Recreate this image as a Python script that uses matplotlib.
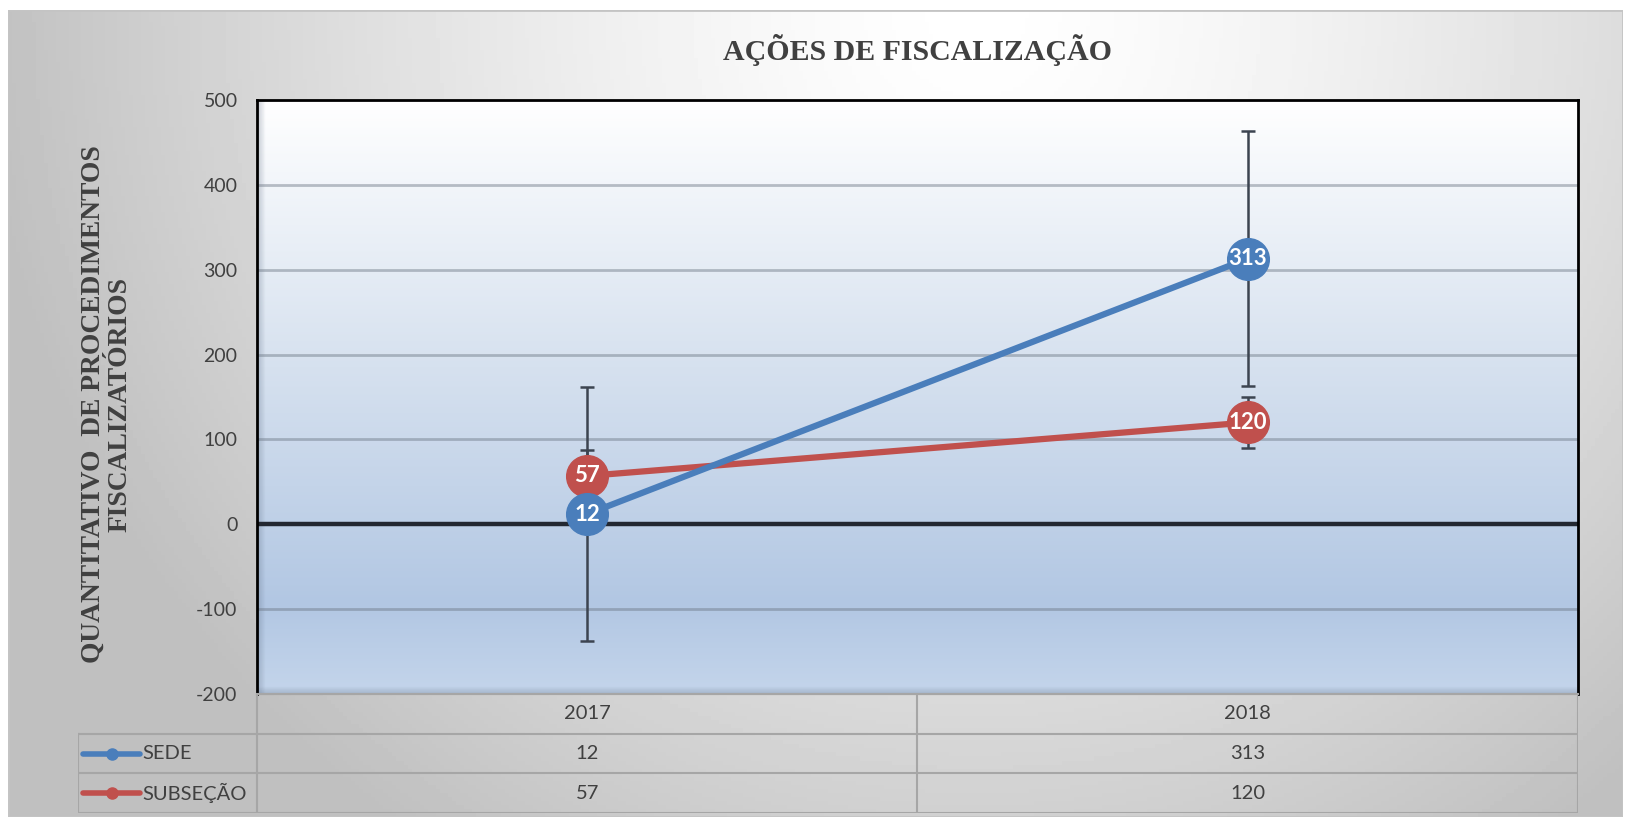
import numpy as np
import matplotlib.pyplot as plt
from matplotlib.lines import Line2D
from matplotlib.patches import Rectangle
from matplotlib.colors import LinearSegmentedColormap

# --------------------------
# Data
# --------------------------
years = ['2017', '2018']
series_names = ['SEDE', 'SUBSEÇÃO']
sede = [12, 313]
subsecao = [57, 120]
sede_err = [150, 150]
subsecao_err = [30, 30]
yticks = [-200, -100, 0, 100, 200, 300, 400, 500]

title = 'AÇÕES DE FISCALIZAÇÃO'
ylabel = 'QUANTITATIVO  DE PROCEDIMENTOS\nFISCALIZATÓRIOS'

blue = '#4a7ebb'
red = '#c0504d'
txt_gray = '#404040'
serif = 'Liberation Serif'
sans = 'Lato'

# --------------------------
# Figure in pixel layout
# --------------------------
W, H = 1631, 823
fig = plt.figure(figsize=(W / 100, H / 100), dpi=100)
fig.patch.set_facecolor('white')


def box(l, t, r, b):
    return [l / W, 1 - b / H, (r - l) / W, (b - t) / H]


# chart area background (grey radial-ish gradient)
bg = fig.add_axes(box(8, 10, 1623, 817), zorder=0)
yy, xx = np.mgrid[0:1:200j, 0:1:400j]
d = np.sqrt(((xx - 0.6) / 0.62) ** 2 + ((yy - 0.0) / 1.25) ** 2)
shade = 1 - 0.25 * np.clip(d, 0, 1) ** 1.4
bg.imshow(shade, cmap='gray', vmin=0, vmax=1, extent=(0, 1, 0, 1), aspect='auto')
bg.set_xlim(0, 1)
bg.set_ylim(0, 1)
bg.axis('off')
bg.add_patch(Rectangle((0, 0), 1, 1, transform=bg.transAxes, fill=False,
                       ec='#c4c4c4', lw=2))

# plot area
L, T, R, B = 257, 100, 1578, 694
ax = fig.add_axes(box(L, T, R, B), zorder=2)
x = np.arange(len(years))
ax.set_xlim(-0.5, len(years) - 0.5)
ax.set_ylim(-200, 500)

pa_cmap = LinearSegmentedColormap.from_list(
    'pa', [(0, '#ffffff'), (0.45, '#d6e1ef'), (0.85, '#b2c7e3'), (1, '#c4d5eb')])
grad = np.linspace(0, 1, 256).reshape(-1, 1)
ax.imshow(grad, cmap=pa_cmap, extent=(-0.5, len(years) - 0.5, -200, 500),
          aspect='auto', origin='upper', zorder=0)

# inner shadow along left and bottom edges
for i in range(7):
    a = 0.22 * (1 - i / 7)
    ax.add_line(Line2D([(i + 1) / (R - L)] * 2, [0, 1], transform=ax.transAxes,
                       color='#5f6f85', alpha=a, lw=1, zorder=1))
    ax.add_line(Line2D([0, 1], [(i + 1) / (B - T)] * 2, transform=ax.transAxes,
                       color='#5f6f85', alpha=a, lw=1, zorder=1))

# gridlines and zero line
for v in yticks[1:-1]:
    if v != 0:
        ax.axhline(v, color='#6b7684', alpha=0.45, lw=2, zorder=1)
ax.axhline(0, color='#232831', lw=3.2, zorder=2)

# error bars
ax.errorbar(x, subsecao, yerr=subsecao_err, fmt='none', ecolor='#3c4450',
            elinewidth=1.8, capsize=5, capthick=1.8, zorder=3)
ax.errorbar(x, sede, yerr=sede_err, fmt='none', ecolor='#3c4450',
            elinewidth=1.8, capsize=5, capthick=1.8, zorder=3)

# lines with markers (SUBSEÇÃO first so SEDE sits on top)
ax.plot(x, subsecao, color=red, lw=4.5, marker='o', ms=30, mec=red, zorder=4)
ax.plot(x, sede, color=blue, lw=4.5, marker='o', ms=30, mec=blue, zorder=5)

for xi, v in zip(x, subsecao):
    ax.text(xi, v, str(v), ha='center', va='center', color='white',
            fontsize=16, fontweight='bold', family=sans, zorder=6)
for xi, v in zip(x, sede):
    ax.text(xi, v, str(v), ha='center', va='center', color='white',
            fontsize=16, fontweight='bold', family=sans, zorder=7)

# axes styling
ax.set_xticks([])
ax.set_yticks(yticks)
ax.set_yticklabels([str(t) for t in yticks], family=sans, fontsize=14,
                   color=txt_gray)
ax.tick_params(axis='y', length=0, pad=14)
for s in ['top', 'left', 'right']:
    ax.spines[s].set_color('black')
    ax.spines[s].set_linewidth(2)
ax.spines['bottom'].set_color('#a6a6a6')
ax.spines['bottom'].set_linewidth(1.5)

# title and axis label
fig.text(918 / W, 1 - 50 / H, title, ha='center', va='center', family=serif,
         fontweight='bold', fontsize=21.5, color=txt_gray)
fig.text(107 / W, 1 - 404 / H, ylabel, ha='center', va='center', rotation=90,
         family=serif, fontweight='bold', fontsize=19.8, color=txt_gray,
         linespacing=1.1, multialignment='center')

# --------------------------
# Data table below the plot
# --------------------------
TL, TT, TB = 78, 694, 813
tab = fig.add_axes(box(TL, TT, R, TB), zorder=3)
unit = (R - L) / len(years)          # pixels per category
left_units = (L - TL) / unit
tab.set_xlim(-0.5 - left_units, len(years) - 0.5)
tab.set_ylim(3, 0)
tab.axis('off')

gcol = '#a6a6a6'
x0 = -0.5 - left_units
xr = len(years) - 0.5
# horizontal lines
tab.plot([-0.5, xr], [0, 0], color=gcol, lw=1.5)
for r in [1, 2, 3]:
    tab.plot([x0, xr], [r, r], color=gcol, lw=1.5)
# vertical lines
tab.plot([x0, x0], [1, 3], color=gcol, lw=1.5)
for c in range(len(years) + 1):
    tab.plot([c - 0.5, c - 0.5], [0, 3], color=gcol, lw=1.5)

for xi, yr in zip(x, years):
    tab.text(xi, 0.5, yr, ha='center', va='center', family=sans, fontsize=14.5,
             color=txt_gray)
for r, (name, vals, col) in enumerate(zip(series_names, [sede, subsecao],
                                          [blue, red])):
    yrow = r + 1.5
    for xi, v in zip(x, vals):
        tab.text(xi, yrow, str(v), ha='center', va='center', family=sans,
                 fontsize=14.5, color=txt_gray)
    # legend key: short line with a marker
    kx0 = x0 + 5 / unit
    kx1 = x0 + 62 / unit
    tab.plot([kx0, kx1], [yrow, yrow], color=col, lw=4, solid_capstyle='round')
    tab.plot([(kx0 + kx1) / 2], [yrow], marker='o', ms=8, color=col)
    tab.text(x0 + 64 / unit, yrow, name, ha='left', va='center', family=sans,
             fontsize=14.5, color=txt_gray)

plt.savefig('out.png', dpi=100)
